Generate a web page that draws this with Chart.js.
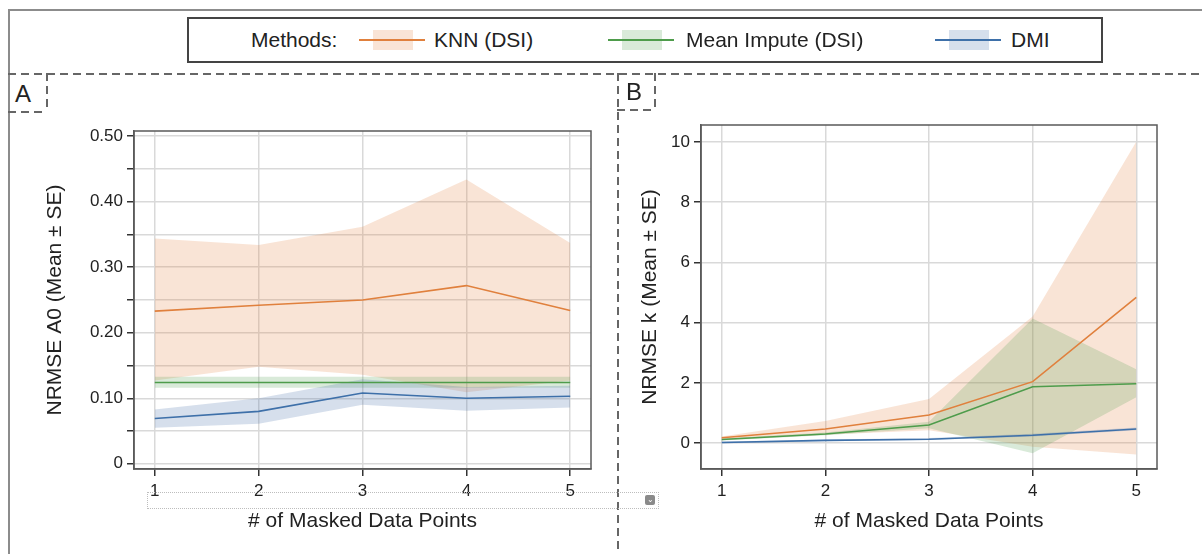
<!DOCTYPE html>
<html lang="en">
<head>
  <meta charset="UTF-8">
  <title>NRMSE vs # of Masked Data Points</title>
  <script src="https://cdn.jsdelivr.net/npm/chart.js"></script>
  <style>
    body {
      margin: 0;
      width: 1202px;
      height: 554px;
      position: relative;
      overflow: hidden;
      background: #fff;
      font-family: 'Liberation Sans', Arial, sans-serif;
      color: #222;
    }
    .abs { position: absolute; }
    canvas { position: absolute; }
    #frameTop { left: 8px; top: 9px; width: 1194px; height: 1.5px; background: #8c8c8c; }
    #frameLeft { left: 8px; top: 9px; width: 1.5px; height: 545px; background: #8c8c8c; }
    .hdash { height: 1.5px; background: repeating-linear-gradient(to right, #666 0 8px, transparent 8px 13px); }
    .vdash { width: 1.5px; background: repeating-linear-gradient(to bottom, #666 0 8px, transparent 8px 13px); }
    .panel-label { font-size: 24px; line-height: 24px; }
    #legend { left: 187px; top: 17px; width: 912px; height: 42px; border: 2px solid #444; background: #fff; }
    .leg-text { font-size: 21px; line-height: 24px; top: 28px; }
    .swatch { top: 30px; height: 20px; }
    .swatch .patch { position: absolute; top: 0; height: 20px; }
    .swatch .line { position: absolute; left: 0; right: 0; top: 9px; height: 2px; }
    #xbox { left: 147px; top: 492px; width: 510px; height: 15px; border: 1px dotted #bdbdbd; }
    #xicon { left: 645px; top: 495px; width: 10px; height: 10px; background: #8a8a8a; border-radius: 2px;
             color: #fff; font-size: 8px; line-height: 9px; text-align: center; }
  </style>
</head>
<body>
  <div id="frameTop" class="abs"></div>
  <div id="frameLeft" class="abs"></div>

  <canvas id="chartA" width="590" height="419" style="left:20px; top:115px;"></canvas>
  <canvas id="chartB" width="577" height="424" style="left:625px; top:110px;"></canvas>

  <!-- panel separators -->
  <div class="abs hdash" style="left:8px; top:73px; width:1194px;"></div>
  <div class="abs vdash" style="left:617px; top:73px; height:481px;"></div>
  <div class="abs vdash" style="left:46px; top:73px; height:39px;"></div>
  <div class="abs hdash" style="left:8px; top:111px; width:39px;"></div>
  <div class="abs vdash" style="left:654px; top:73px; height:37px;"></div>
  <div class="abs hdash" style="left:617px; top:109px; width:38px;"></div>
  <div class="abs panel-label" style="left:15px; top:82px;">A</div>
  <div class="abs panel-label" style="left:626px; top:80px;">B</div>

  <div id="legend" class="abs"></div>
  <div id="legendItems"></div>

  <div id="xbox" class="abs"></div>
  <div id="xicon" class="abs">&#8964;</div>

  <script>
    const masked = [1, 2, 3, 4, 5];
    const xTickLabels = ['1', '2', '3', '4', '5'];
    const methods = ['KNN (DSI)', 'Mean Impute (DSI)', 'DMI'];

    // Panel A: NRMSE A0
    const a0KnnMean  = [0.233, 0.242, 0.250, 0.272, 0.234];
    const a0KnnUpper = [0.344, 0.334, 0.362, 0.434, 0.337];
    const a0KnnLower = [0.127, 0.148, 0.136, 0.109, 0.127];
    const a0MeanMean  = [0.124, 0.124, 0.124, 0.124, 0.124];
    const a0MeanUpper = [0.133, 0.133, 0.133, 0.133, 0.133];
    const a0MeanLower = [0.116, 0.116, 0.116, 0.116, 0.116];
    const a0DmiMean  = [0.069, 0.080, 0.108, 0.100, 0.103];
    const a0DmiUpper = [0.083, 0.100, 0.129, 0.117, 0.119];
    const a0DmiLower = [0.055, 0.061, 0.090, 0.081, 0.086];
    const a0Ticks  = [0, 0.05, 0.10, 0.15, 0.20, 0.25, 0.30, 0.35, 0.40, 0.45, 0.50];
    const a0Labels = ['0', '', '0.10', '', '0.20', '', '0.30', '', '0.40', '', '0.50'];

    // Panel B: NRMSE k
    const kKnnMean  = [0.18, 0.47, 0.93, 2.04, 4.84];
    const kKnnUpper = [0.22, 0.73, 1.46, 4.20, 10.0];
    const kKnnLower = [0.12, 0.28, 0.43, -0.12, -0.38];
    const kMeanMean  = [0.12, 0.30, 0.60, 1.87, 1.97];
    const kMeanUpper = [0.15, 0.35, 0.71, 4.14, 2.45];
    const kMeanLower = [0.09, 0.26, 0.49, -0.34, 1.52];
    const kDmiMean  = [0.02, 0.09, 0.13, 0.26, 0.47];
    const kDmiUpper = [0.05, 0.12, 0.17, 0.31, 0.52];
    const kDmiLower = [-0.01, 0.06, 0.10, 0.22, 0.43];
    const kTicks  = [0, 2, 4, 6, 8, 10];
    const kLabels = ['0', '2', '4', '6', '8', '10'];

    const FONT = "'Liberation Sans', Arial, sans-serif";
    const lineColors = ['#e0803d', '#4e9c4b', '#3e70a9'];
    const bandColors = ['rgba(226,130,70,0.22)', 'rgba(80,160,80,0.22)', 'rgba(70,110,170,0.22)'];

    // legend (html, spans both panels)
    const legendX = [[359, 434], [608, 686], [935, 1011]];
    let html = '<div class="abs leg-text" style="left:251px;">Methods:</div>';
    methods.forEach((m, i) => {
      const [sx, tx] = legendX[i];
      html += '<div class="abs swatch" style="left:' + sx + 'px; width:66px;">' +
              '<div class="patch" style="left:14px; width:40px; background:' + bandColors[i] + ';"></div>' +
              '<div class="line" style="background:' + lineColors[i] + ';"></div></div>' +
              '<div class="abs leg-text" style="left:' + tx + 'px;">' + m + '</div>';
    });
    document.getElementById('legendItems').innerHTML = html;

    function pts(ys) {
      return masked.map((x, i) => ({ x: x, y: ys[i] }));
    }

    function series(mean, upper, lower, i) {
      return [
        { data: pts(upper), fill: '+1', backgroundColor: bandColors[i], borderColor: 'transparent',
          borderWidth: 0, pointRadius: 0, order: 10 - i },
        { data: pts(lower), fill: false, borderColor: 'transparent', borderWidth: 0, pointRadius: 0, order: 10 - i },
        { data: pts(mean), fill: false, borderColor: lineColors[i], borderWidth: 1.6, pointRadius: 0, order: 1 }
      ];
    }

    // box around the plot area (Chart.js only draws the axis sides)
    const plotFrame = {
      id: 'plotFrame',
      afterDatasetsDraw(chart) {
        const a = chart.chartArea, ctx = chart.ctx;
        ctx.save();
        ctx.strokeStyle = '#5a5a5a';
        ctx.lineWidth = 1.5;
        ctx.strokeRect(a.left, a.top, a.right - a.left, a.bottom - a.top);
        ctx.restore();
      }
    };

    function makeChart(id, datasets, opts) {
      return new Chart(document.getElementById(id), {
        type: 'line',
        data: { datasets: datasets },
        plugins: [plotFrame],
        options: {
          responsive: false,
          animation: false,
          layout: { padding: opts.padding },
          plugins: { legend: { display: false }, tooltip: { enabled: false } },
          scales: {
            x: {
              type: 'linear', min: 0.8, max: 5.2,
              afterBuildTicks: s => { s.ticks = masked.map(v => ({ value: v })); },
              afterFit: s => { s.height = 65; },
              grid: { color: '#d9d9d9', lineWidth: 1.5, tickColor: '#333', tickLength: 7, tickWidth: 1.5 },
              border: { color: '#5a5a5a', width: 1.5 },
              ticks: { color: '#222', padding: 5, font: { size: 17, family: FONT },
                       callback: (v, idx) => xTickLabels[idx] },
              title: { display: true, text: '# of Masked Data Points', color: '#222', padding: 0,
                       font: { size: 21, family: FONT } }
            },
            y: {
              type: 'linear', min: opts.yMin, max: opts.yMax,
              afterBuildTicks: s => { s.ticks = opts.yTicks.map(v => ({ value: v })); },
              afterFit: s => { s.width = opts.yWidth; },
              grid: { color: '#d9d9d9', lineWidth: 1.5, tickColor: '#333', tickLength: 7, tickWidth: 1.5 },
              border: { color: '#5a5a5a', width: 1.5 },
              ticks: { color: '#222', padding: 4, font: { size: 17, family: FONT },
                       callback: (v, idx) => opts.yLabels[idx] },
              title: { display: true, text: opts.yTitle, color: '#222', padding: { top: opts.titlePad, bottom: 0 },
                       font: { size: 21, family: FONT } }
            }
          }
        }
      });
    }

    makeChart('chartA', [].concat(
      series(a0KnnMean, a0KnnUpper, a0KnnLower, 0),
      series(a0MeanMean, a0MeanUpper, a0MeanLower, 1),
      series(a0DmiMean, a0DmiUpper, a0DmiLower, 2)
    ), {
      padding: { top: 16, right: 19, left: 0, bottom: 0 },
      yMin: -0.008, yMax: 0.508, yTicks: a0Ticks, yLabels: a0Labels,
      yWidth: 114, titlePad: 23, yTitle: 'NRMSE A0 (Mean ± SE)'
    });

    makeChart('chartB', [].concat(
      series(kKnnMean, kKnnUpper, kKnnLower, 0),
      series(kMeanMean, kMeanUpper, kMeanLower, 1),
      series(kDmiMean, kDmiUpper, kDmiLower, 2)
    ), {
      padding: { top: 15, right: 45, left: 0, bottom: 0 },
      yMin: -0.86, yMax: 10.56, yTicks: kTicks, yLabels: kLabels,
      yWidth: 76, titlePad: 13, yTitle: 'NRMSE k (Mean ± SE)'
    });
  </script>
</body>
</html>
